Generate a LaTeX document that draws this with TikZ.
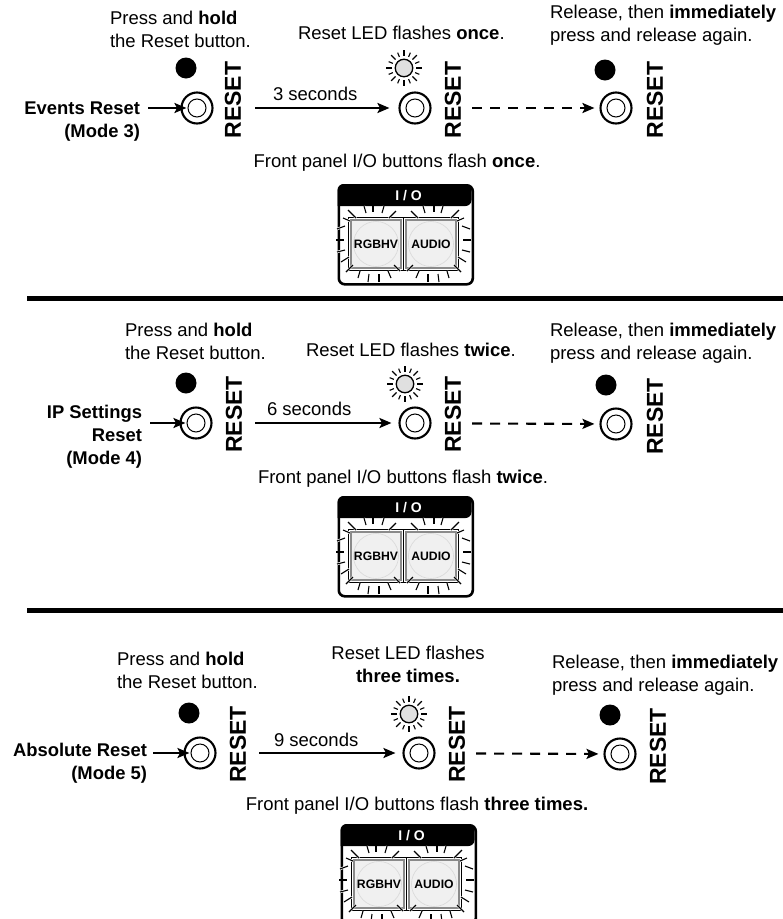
\documentclass[tikz,border=0pt]{standalone}
\usepackage{fontspec}
\setmainfont{Liberation Sans}
\usetikzlibrary{arrows.meta}
\tikzset{
  txt/.style={inner sep=0pt,outer sep=0pt,font=\fontsize{18.5}{22.7}\selectfont},
  txtl/.style={txt,align=left,anchor=base west},
  txtr/.style={txt,align=right,anchor=base east,font=\fontsize{18.4}{22.7}\selectfont\bfseries},
  txtc/.style={txt,align=center,anchor=base},
  resetlbl/.style={inner sep=0pt,rotate=90,anchor=center,font=\fontsize{23}{23}\selectfont\bfseries},
  ledoff/.style={circle,fill=black,draw=none,minimum size=21pt,inner sep=0pt},
  ledon/.style={circle,fill=ledgray,draw=black,line width=1.3pt,minimum size=17.5pt,inner sep=0pt},
  btnouter/.style={circle,draw=black,line width=2.1pt,minimum size=31pt,inner sep=0pt},
  btninner/.style={circle,draw=black,line width=1pt,minimum size=18pt,inner sep=0pt},
  arr/.style={line width=2.1pt,-{Stealth[length=12pt,width=10pt,inset=2.5pt]}},
  darr/.style={arr,dash pattern=on 10pt off 8pt},
  sepline/.style={line width=5pt,black},
  panelbox/.style={rectangle,rounded corners=6pt,draw=black,fill=white,line width=2.6pt,minimum width=134pt,minimum height=99pt,inner sep=0pt,anchor=north west},
  pbtn/.style={rectangle,draw=black,line width=1.6pt,fill=white,minimum width=55pt,minimum height=53pt,inner sep=0pt},
  pframe/.style={rectangle,draw=framegray,line width=1.4pt,fill=facegray,minimum width=50pt,minimum height=48pt,inner sep=0pt},
  pcirc/.style={circle,draw=circgray,line width=0.6pt,fill=facegray,minimum size=45pt,inner sep=0pt,font=\fontsize{12.2}{12.2}\selectfont\bfseries},
  iotext/.style={text=white,inner sep=0pt,font=\fontsize{14}{14}\selectfont\bfseries},
}
\definecolor{ledgray}{HTML}{E0E0E0}
\definecolor{framegray}{HTML}{8A8A8A}
\definecolor{facegray}{HTML}{F0F0F0}
\definecolor{circgray}{HTML}{D8D8D8}
\newcommand{\sunrays}[2]{%
  \foreach \a in {0,45,...,315}{
    \draw[line width=1.1pt] (#1,#2) ++(\a:12) -- ++(\a:6.2);
    \draw[line width=1.1pt] (#1,#2) ++(\a+22.5:12) -- ++(\a+22.5:4.6);
  }}
\newcommand{\flashticks}[3]{%
  \begin{scope}[shift={(#1,#2)},xscale=#3]
    \foreach \xa/\ya/\xb/\yb in {
      -12/-38/-10/-31, -3/-40/-3/-32, 8/-38/6/-31,
      -28/-34/-20/-26, 20/-33/13/-26, -33/-26/-26/-23,
      -39/-15/-31/-18, -40/-4/-32/-4, -39/8/-31/6, -35/18/-27/13,
      -30/28/-23/21, -18/34/-16/27, -8/38/-7/30, 3/38/3/30, 15/34/12/27, 24/27/18/21}{
      \draw[white,line width=2.4pt] (\xa,\ya) -- (\xb,\yb);
      \draw[black,line width=1.1pt] (\xa,\ya) -- (\xb,\yb);
    }
  \end{scope}}
\newcommand{\iopanel}[3]{%
  \node[panelbox] (#1) at (#2,#3) {};
  \fill[black,rounded corners=6pt] (#2,#3+22) -- (#2,#3) -- (#2+134,#3) -- (#2+134,#3+22) [sharp corners] -- cycle;
  \node[iotext] (#1io) at (#2+71,#3+12) {I / O};
  \node[pbtn] (#1a) at (#2+38.5,#3+60) {};
  \node[pbtn] (#1b) at (#2+93.5,#3+60) {};
  \node[pframe] at (#2+38.5,#3+60) {};
  \node[pframe] at (#2+93.5,#3+60) {};
  \node[pcirc] (#1at) at (#2+38.5,#3+60) {RGBHV};
  \node[pcirc] (#1bt) at (#2+93.5,#3+60) {AUDIO};
  \flashticks{#2+38.5}{#3+60}{1}
  \flashticks{#2+93.5}{#3+60}{-1}
}
\newcommand{\pushbtn}[3]{%
  \node[btnouter] (#1) at (#2,#3) {};
  \node[btninner] (#1i) at (#2,#3) {};
}
\begin{document}
\begin{tikzpicture}[x=1pt,y=-1pt]
\useasboundingbox (0,0) rectangle (783,919);

% ---------- Row 1 ----------
\node[txtl] (t1a) at (110,47) {Press and \textbf{hold}\\the Reset button.};
\node[txtl] (t1b) at (298,39) {Reset LED flashes \textbf{once}.};
\node[txtl] (t1c) at (550,41) {Release, then \textbf{immediately}\\press and release again.};
\node[txtr] (m1) at (140,137) {Events Reset\\(Mode 3)};
\node[ledoff] (l1a) at (186,68) {};
\pushbtn{b1a}{197}{108}
\node[resetlbl] (r1a) at (233,100) {RESET};
\node[ledon] (l1b) at (404,68) {};
\sunrays{404}{68}
\pushbtn{b1b}{415}{108}
\node[resetlbl] (r1b) at (453,100) {RESET};
\node[ledoff] (l1c) at (605,70) {};
\pushbtn{b1c}{616}{108}
\node[resetlbl] (r1c) at (655,100) {RESET};
\coordinate (s1a) at (148,108);
\coordinate (s1b) at (255,108);
\coordinate (s1c) at (472,108);
\draw[arr,shorten >=-6pt] (s1a) -- (b1a);
\draw[arr,shorten >=9pt] (s1b) -- (b1b);
\draw[darr,shorten >=5pt] (s1c) -- (b1c);
\node[txtl] (d1) at (273,100) {3 seconds};
\node[txtc] (f1) at (397,167) {Front panel I/O buttons flash \textbf{once}.};
\iopanel{p1}{337.5}{184}
\coordinate (w1a) at (27,298.5);
\coordinate (w1b) at (783,298.5);
\draw[sepline] (w1a) -- (w1b);

% ---------- Row 2 ----------
\node[txtl] (t2a) at (125,359) {Press and \textbf{hold}\\the Reset button.};
\node[txtl] (t2b) at (306,356) {Reset LED flashes \textbf{twice}.};
\node[txtl] (t2c) at (550,359) {Release, then \textbf{immediately}\\press and release again.};
\node[txtr] (m2) at (142,464) {IP Settings\\Reset\\(Mode 4)};
\node[ledoff] (l2a) at (186,383) {};
\pushbtn{b2a}{196}{423}
\node[resetlbl] (r2a) at (234,414.5) {RESET};
\node[ledon] (l2b) at (405,384) {};
\sunrays{405}{384}
\pushbtn{b2b}{415}{423}
\node[resetlbl] (r2b) at (453,414.5) {RESET};
\node[ledoff] (l2c) at (606,385) {};
\pushbtn{b2c}{616}{424}
\node[resetlbl] (r2c) at (655,416.5) {RESET};
\coordinate (s2a) at (150,423);
\coordinate (s2b) at (255,423);
\coordinate (s2c) at (472,423.5);
\draw[arr,shorten >=-6pt] (s2a) -- (b2a);
\draw[arr,shorten >=7pt] (s2b) -- (b2b);
\draw[darr,shorten >=5pt] (s2c) -- (b2c);
\node[txtl] (d2) at (267,415) {6 seconds};
\node[txtc] (f2) at (403,483) {Front panel I/O buttons flash \textbf{twice}.};
\iopanel{p2}{337.5}{496}
\coordinate (w2a) at (27,610.5);
\coordinate (w2b) at (783,610.5);
\draw[sepline] (w2a) -- (w2b);

% ---------- Row 3 ----------
\node[txtl] (t3a) at (117,688) {Press and \textbf{hold}\\the Reset button.};
\node[txtc] (t3b) at (408,682) {Reset LED flashes\\\textbf{three times.}};
\node[txtl] (t3c) at (552,691) {Release, then \textbf{immediately}\\press and release again.};
\node[txtr] (m3) at (147,779) {Absolute Reset\\(Mode 5)};
\node[ledoff] (l3a) at (189,713) {};
\pushbtn{b3a}{200}{753}
\node[resetlbl] (r3a) at (238,744.5) {RESET};
\node[ledon] (l3b) at (409,714) {};
\sunrays{409}{714}
\pushbtn{b3b}{419}{753}
\node[resetlbl] (r3b) at (457,744.5) {RESET};
\node[ledoff] (l3c) at (610,715) {};
\pushbtn{b3c}{620}{754}
\node[resetlbl] (r3c) at (658,746.5) {RESET};
\coordinate (s3a) at (153,753);
\coordinate (s3b) at (259,753);
\coordinate (s3c) at (476,753.5);
\draw[arr,shorten >=-6pt] (s3a) -- (b3a);
\draw[arr,shorten >=7pt] (s3b) -- (b3b);
\draw[darr,shorten >=5pt] (s3c) -- (b3c);
\node[txtl] (d3) at (274,746) {9 seconds};
\node[txtc] (f3) at (417,810) {Front panel I/O buttons flash \textbf{three times.}};
\iopanel{p3}{340.5}{824}
\end{tikzpicture}
\end{document}
